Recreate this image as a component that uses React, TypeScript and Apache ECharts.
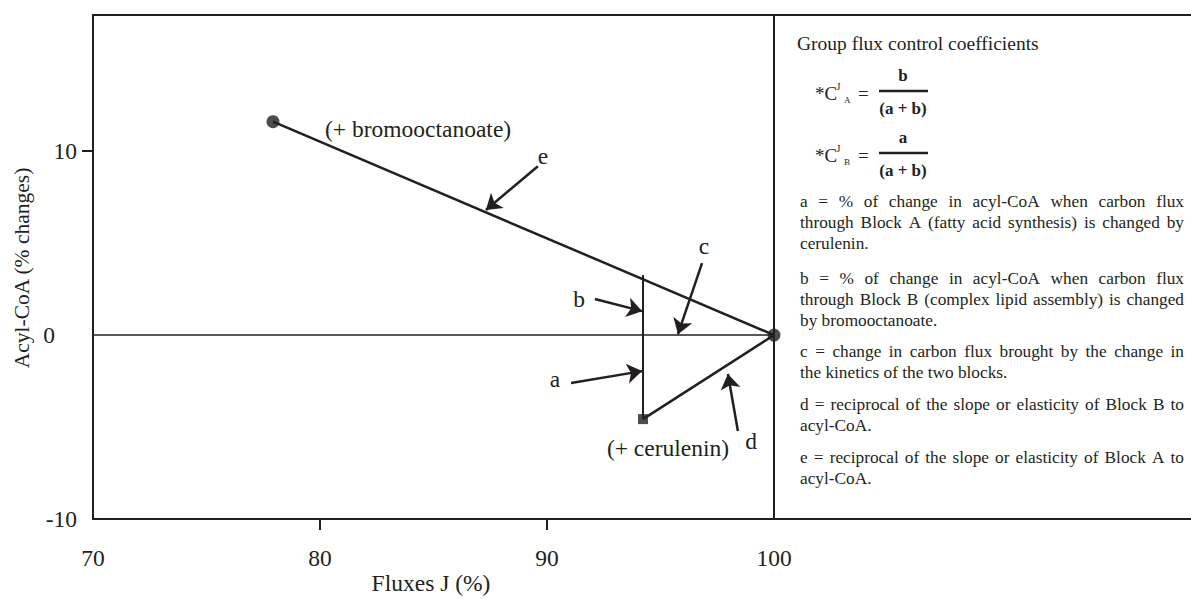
import { useEffect, useRef } from "react";
import * as echarts from "echarts";

// ---- data ----
const xTickLabels = [70, 80, 90, 100];
const xTickMarks = [80, 90];
const yTickLabels = [-10, 0, 10];
const yTickMarks = [10];

const origin = [100, 0];
const bromoPoint = [77.93, 11.6];
const ceruleninPoint = [94.23, -4.57];
const blockLineTop = [94.23, 3.26];
const zeroLine = [[70, 0], [100, 0]];
const steadyStateLine = [[100, -10], [100, 17.4]];

const annotationArrows = [
  { name: "e", from: [89.6, 9.18], to: [87.31, 6.8] },
  { name: "b", from: [92.11, 1.96], to: [94.19, 1.3] },
  { name: "c", from: [96.83, 3.91], to: [95.77, 0.05] },
  { name: "a", from: [91.06, -2.61], to: [94.19, -1.96] },
  { name: "d", from: [98.41, -5.22], to: [97.97, -2.12] },
];
const annotationLabels = [
  { text: "(+ bromooctanoate)", at: [84.32, 11.2] },
  { text: "e", at: [89.82, 9.73] },
  { text: "b", at: [91.41, 1.96] },
  { text: "c", at: [96.92, 4.84] },
  { text: "a", at: [90.35, -2.39] },
  { text: "d", at: [98.99, -5.76] },
  { text: "(+ cerulenin)", at: [95.33, -6.14] },
];

const legendTitle = "Group flux control coefficients";
const legendParagraphs = [
  [
    "a = % of change in acyl-CoA when carbon flux",
    "through Block A (fatty acid synthesis) is changed by",
    "cerulenin.",
  ],
  [
    "b = % of change in acyl-CoA when carbon flux",
    "through Block B (complex lipid assembly) is changed",
    "by bromooctanoate.",
  ],
  [
    "c = change in carbon flux brought by the change in",
    "the kinetics of the two blocks.",
  ],
  [
    "d = reciprocal of the slope or elasticity of Block B to",
    "acyl-CoA.",
  ],
  [
    "e = reciprocal of the slope or elasticity of Block A to",
    "acyl-CoA.",
  ],
];

// ---- styles / layout ----
const INK = "#231f20";
const SERIF = "'Liberation Serif', 'Times New Roman', serif";
const BIG = 23.5;
const GRID_LEFT = 93;
const GRID_TOP = 15;
const GRID_W = 1098;
const GRID_H = 504;
const X_MIN = 70;
const X_MAX = 70 + (GRID_W * 30) / 681;
const Y_MIN = -10;
const Y_MAX = 17.4;

const PARA_FONT = 17.3;
const LEGEND_LEFT = 800;
const LEGEND_RIGHT = 1184;
const LINE_H = 21;
const PARA_TOPS = [201, 278, 351, 404, 457];

let measureCtx: CanvasRenderingContext2D | null = null;
function measure(text: string, size: number) {
  if (!measureCtx) measureCtx = document.createElement("canvas").getContext("2d");
  measureCtx!.font = `${size}px 'Liberation Serif'`;
  return measureCtx!.measureText(text).width;
}

function buildLegendGraphics() {
  const els: any[] = [];
  const txt = (x: number, y: number, text: string, size: number, extra: any = {}) => ({
    type: "text",
    x,
    y,
    silent: true,
    style: {
      text,
      fontSize: size,
      fontFamily: SERIF,
      fill: INK,
      align: "left",
      verticalAlign: "middle",
      ...extra,
    },
  });
  els.push(txt(797, 43, legendTitle, 19.5));

  // formulas
  const formula = (cy: number, sub: string, num: string) => {
    els.push(txt(815, cy, "*C", 19));
    els.push(txt(836.5, cy - 7, "J", 10));
    els.push(txt(844, cy + 7, sub, 9));
    els.push(txt(858, cy, "=", 19));
    els.push(txt(903, cy - 18, num, 17, { fontWeight: "bold", align: "center" }));
    els.push({
      type: "line",
      silent: true,
      shape: { x1: 879, y1: cy - 2, x2: 928, y2: cy - 2 },
      style: { stroke: INK, lineWidth: 2.5 },
    });
    els.push(txt(903, cy + 15, "(a + b)", 17, { fontWeight: "bold", align: "center" }));
  };
  formula(93, "A", "b");
  formula(155, "B", "a");

  const W = LEGEND_RIGHT - LEGEND_LEFT;
  legendParagraphs.forEach((lines, pi) => {
    lines.forEach((line, li) => {
      const y = PARA_TOPS[pi] + li * LINE_H;
      const justify = li < lines.length - 1;
      if (!justify) {
        els.push(txt(LEGEND_LEFT, y, line, PARA_FONT));
        return;
      }
      const words = line.split(" ");
      const widths = words.map((w) => measure(w, PARA_FONT));
      const total = widths.reduce((s, v) => s + v, 0);
      const gap = (W - total) / (words.length - 1);
      let x = LEGEND_LEFT;
      words.forEach((w, wi) => {
        els.push(txt(x, y, w, PARA_FONT));
        x += widths[wi] + gap;
      });
    });
  });

  // axis names
  els.push(txt(431, 583, "Fluxes J (%)", BIG, { align: "center" }));
  els.push({
    type: "text",
    x: 22,
    y: 268,
    rotation: Math.PI / 2,
    silent: true,
    style: {
      text: "Acyl-CoA (% changes)",
      fontSize: 21.5,
      fontFamily: SERIF,
      fill: INK,
      align: "center",
      verticalAlign: "middle",
    },
  });
  return els;
}

// annotation text drawn at data coordinates through the cartesian scale
const annotationSeries = {
  type: "custom",
  coordinateSystem: "cartesian2d",
  data: annotationLabels.map((l) => l.at),
  silent: true,
  clip: false,
  z: 6,
  renderItem: (params: any, api: any) => {
    const p = api.coord([api.value(0), api.value(1)]);
    return {
      type: "text",
      x: p[0],
      y: p[1],
      silent: true,
      style: {
        text: annotationLabels[params.dataIndex].text,
        fontSize: BIG,
        fontFamily: SERIF,
        fill: INK,
        align: "center",
        verticalAlign: "middle",
      },
    };
  },
};

function buildOption() {
  const lineSeries = (data: number[][], width: number) => ({
    type: "line",
    data,
    symbol: "none",
    silent: true,
    lineStyle: { color: INK, width },
    z: 3,
  });
  const tickLabelStyle = { fontSize: BIG, fontFamily: SERIF, color: INK };
  return {
    animation: false,
    backgroundColor: "#ffffff",
    grid: { left: GRID_LEFT, top: GRID_TOP, width: GRID_W, height: GRID_H, containLabel: false },
    xAxis: [
      {
        type: "value",
        min: X_MIN,
        max: X_MAX,
        position: "bottom",
        axisLine: { show: true, onZero: false, lineStyle: { color: INK, width: 2 } },
        axisTick: { show: true, customValues: xTickMarks, length: 11, lineStyle: { color: INK, width: 2 } },
        axisLabel: { show: true, customValues: xTickLabels, margin: 27, ...tickLabelStyle },
        splitLine: { show: false },
      },
      {
        type: "value",
        min: X_MIN,
        max: X_MAX,
        position: "top",
        axisLine: { show: true, onZero: false, lineStyle: { color: INK, width: 2 } },
        axisTick: { show: false },
        axisLabel: { show: false },
        splitLine: { show: false },
      },
    ],
    yAxis: {
      type: "value",
      min: Y_MIN,
      max: Y_MAX,
      axisLine: { show: true, onZero: false, lineStyle: { color: INK, width: 2 } },
      axisTick: { show: true, customValues: yTickMarks, length: 11, lineStyle: { color: INK, width: 2 } },
      axisLabel: {
        show: true,
        customValues: yTickLabels,
        margin: 16,
        ...tickLabelStyle,
        formatter: (v: number) => (v === 0 ? `{z|${v}}` : `{n|${v}}`),
        rich: {
          n: { ...tickLabelStyle },
          z: { ...tickLabelStyle, padding: [0, 22, 0, 0] },
        },
      },
      splitLine: { show: false },
    },
    series: [
      lineSeries(zeroLine, 1.5),
      lineSeries(steadyStateLine, 2),
      lineSeries([bromoPoint, origin], 2.5),
      lineSeries([ceruleninPoint, origin], 2.5),
      lineSeries([blockLineTop, ceruleninPoint], 2),
      {
        type: "scatter",
        data: [bromoPoint, origin],
        symbol: "circle",
        symbolSize: 13,
        itemStyle: { color: INK },
        silent: true,
        z: 5,
      },
      {
        type: "scatter",
        data: [ceruleninPoint],
        symbol: "rect",
        symbolSize: 10,
        itemStyle: { color: INK },
        silent: true,
        z: 5,
      },
      annotationSeries,
      {
        type: "line",
        data: [],
        silent: true,
        markLine: {
          silent: true,
          symbol: ["none", "arrow"],
          symbolSize: 15,
          label: { show: false },
          lineStyle: { color: INK, width: 2.5, type: "solid" },
          emphasis: { disabled: true },
          data: annotationArrows.map((a) => [{ coord: a.from }, { coord: a.to }]),
        },
      },
    ],
    graphic: buildLegendGraphics(),
  };
}

export default function App() {
  const ref = useRef<HTMLDivElement>(null);
  useEffect(() => {
    if (!ref.current) return;
    const chart = echarts.init(ref.current, null, { renderer: "svg" });
    chart.setOption(buildOption() as any);
    return () => chart.dispose();
  }, []);
  return (
    <div
      ref={ref}
      style={{ position: "absolute", left: 0, top: 0, width: 1191, height: 599, background: "#fff" }}
    />
  );
}
